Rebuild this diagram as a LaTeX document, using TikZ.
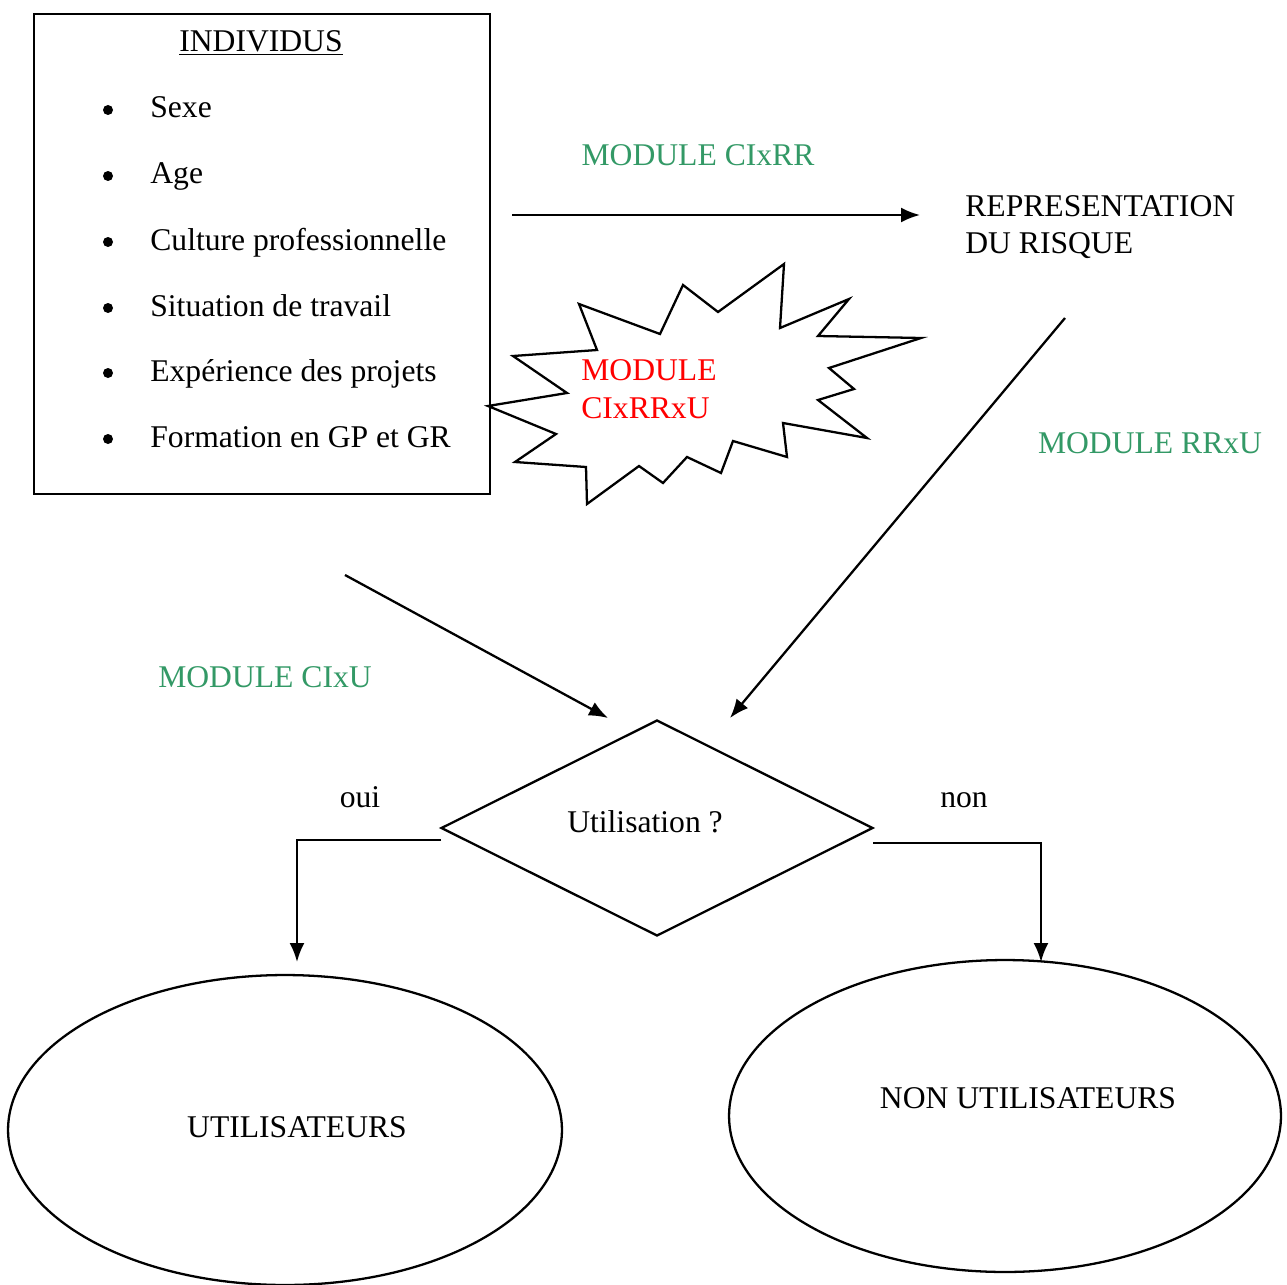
\documentclass[tikz,border=0pt]{standalone}
\usepackage{fontspec}
\setmainfont{Liberation Serif}
\usetikzlibrary{arrows.meta, shapes.geometric}
\definecolor{modgreen}{RGB}{51,153,102}
\tikzset{
	lbl/.style={font=\fontsize{18}{21.5}\selectfont, inner sep=0pt},
	modlbl/.style={lbl, text=modgreen},
	puce/.style={circle, fill, inner sep=0pt, minimum size=0.2cm},
	fleche/.style={-{Latex[length=0.38cm, width=0.3cm]}, line width=1.3pt},
	trait/.style={line width=1.3pt},
}
\begin{document}
\begin{tikzpicture}[x=0.02cm, y=-0.02cm]
	\useasboundingbox (0,0) rectangle (1287,1284);
	
	% ==================== INDIVIDUS ====================
	\node[draw, trait, minimum width=9.12cm, minimum height=9.6cm, anchor=north west] (indiv) at (33,13) {};
	\node[lbl] (titre) at (261,43) {\underline{INDIVIDUS}};
	\foreach \y/\txt [count=\i] in {108/Sexe, 174/Age, 240/Culture professionnelle,
		306/Situation de travail, 371/Exp\'erience des projets, 437/Formation en GP et GR} {
		\node[puce] (puce\i) at (108,\y+2) {};
		\node[lbl, anchor=base west] (item\i) at (150,\y+10) {\txt};
	}
	
	% ==================== REPRESENTATION ====================
	\node[lbl, align=left, anchor=west] (repr) at (965,227) {REPRESENTATION\\DU RISQUE};
	
	% --- CIxRR ---
	\coordinate (a1) at (512,215);
	\coordinate (a2) at (920,215);
	\draw[fleche] (a1) -- (a2);
	\node[modlbl] (mod1) at (698,155) {MODULE CIxRR};
	
	% --- CIxRRxU : etoile ---
	\draw[trait, line join=miter] (488,406) -- (567,393) -- (513,356) -- (597,350) -- (579,304)
		-- (660,334) -- (683,285) -- (718,312) -- (784,264) -- (780,328) -- (849,299)
		-- (818,336) -- (921,338) -- (829,368) -- (854,389) -- (818,400) -- (867,438)
		-- (783,423) -- (787,457) -- (733,441) -- (721,473) -- (687,457) -- (663,483)
		-- (639,466) -- (587,504) -- (586,467) -- (515,462) -- (556,434) -- cycle;
	\node[lbl, text=red, align=left, anchor=west] (mod2) at (581,389) {MODULE\\CIxRRxU};
	
	% ==================== UTILISATION ====================
	\node[draw, trait, diamond, inner sep=0pt, minimum width=8.64cm, minimum height=4.32cm] (util) at (657,828) {};
	\node[lbl] (q) at (645,822) {Utilisation ?};
	
	% --- RRxU ---
	\coordinate (b1) at (1065,318);
	\coordinate (b2) at (730,718);
	\draw[fleche] (b1) -- (b2);
	\node[modlbl] (mod3) at (1150,443) {MODULE RRxU};
	
	% --- CIxU ---
	\coordinate (c1) at (345,575);
	\coordinate (c2) at (608,718);
	\draw[fleche] (c1) -- (c2);
	\node[modlbl] (mod4) at (265,677) {MODULE CIxU};
	
	% ==================== RESULTATS ====================
	\node[draw, trait, ellipse, minimum width=11.08cm, minimum height=6.2cm] (oui) at (285,1130) {};
	\node[lbl] (t1) at (297,1127) {UTILISATEURS};
	\node[draw, trait, ellipse, minimum width=11.04cm, minimum height=6.24cm] (non) at (1005,1116) {};
	\node[lbl] (t2) at (1028,1098) {NON UTILISATEURS};
	
	% oui / non
	\coordinate (d1) at (441,840);
	\coordinate (d2) at (297,840);
	\coordinate (d3) at (297,962);
	\draw[fleche] (d1) -- (d2) -- (d3);
	\node[lbl] (ouilbl) at (360,797) {oui};
	
	\coordinate (e1) at (873,843);
	\coordinate (e2) at (1041,843);
	\coordinate (e3) at (1041,962);
	\draw[fleche] (e1) -- (e2) -- (e3);
	\node[lbl] (nonlbl) at (964,800) {non};
\end{tikzpicture}
\end{document}
